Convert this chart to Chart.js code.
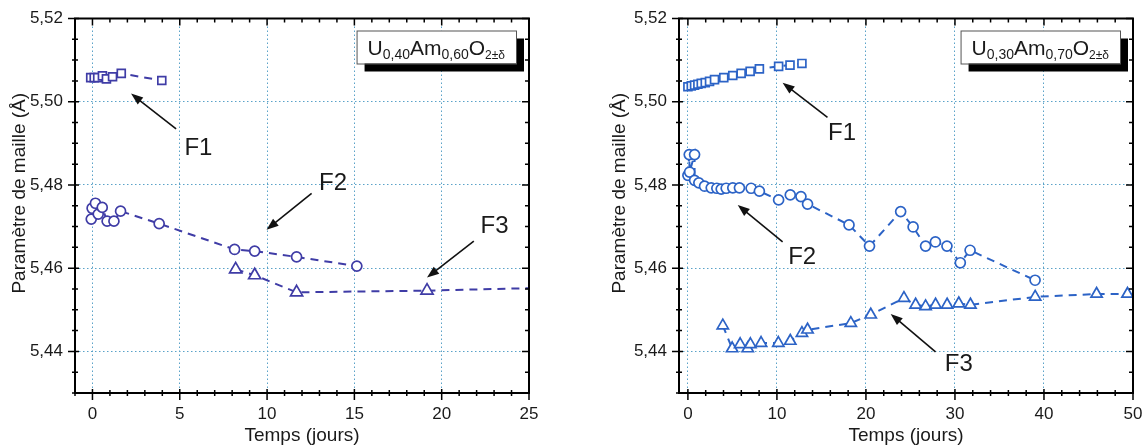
<!DOCTYPE html>
<html>
<head>
<meta charset="utf-8">
<script src="https://cdn.jsdelivr.net/npm/chart.js@4.4.1/dist/chart.umd.min.js"></script>
<style>
  html, body { margin: 0; padding: 0; background: #fff; }
  #wrap { position: relative; width: 1144px; height: 445px; }
  .panel { position: absolute; top: 0; width: 572px; height: 445px; }
  #pLeft { left: 0; }
  #pRight { left: 572px; }
</style>
</head>
<body>
<div id="wrap">
  <div class="panel" id="pLeft"><canvas id="chartLeft" width="572" height="445"></canvas></div>
  <div class="panel" id="pRight"><canvas id="chartRight" width="572" height="445"></canvas></div>
</div>
<script>
// ============================================================================
// Données
// ============================================================================

const Y_MIN = 5.43;
const Y_MAX = 5.52;
const yTicks = [5.44, 5.46, 5.48, 5.50, 5.52];

const leftXTicks = [0, 5, 10, 15, 20, 25];
const rightXTicks = [0, 10, 20, 30, 40, 50];

// U0,40Am0,60O2±δ
const leftF1X = [-0.1, 0.1, 0.3, 0.57, 0.8, 1.15, 1.65, 3.97];
const leftF1Y = [5.5058, 5.5058, 5.5058, 5.5062, 5.5055, 5.5060, 5.5068, 5.5051];

const leftF2X = [-0.07, -0.02, 0.17, 0.33, 0.56, 0.84, 1.23, 1.61, 3.82, 8.14, 9.29, 11.69, 15.14];
const leftF2Y = [5.4718, 5.4744, 5.4756, 5.4730, 5.4746, 5.4713, 5.4713, 5.4737, 5.4707, 5.4645, 5.4641, 5.4627, 5.4605];

const leftF3X = [8.2, 9.29, 11.69, 19.16, 26];
const leftF3Y = [5.4597, 5.4583, 5.4542, 5.4546, 5.4553];

// U0,30Am0,70O2±δ
const rightF1X = [0, 0.38, 0.75, 1.12, 1.5, 1.95, 2.43, 2.99, 4.03, 5.04, 5.98, 6.99, 8.03, 10.19, 11.47, 12.81];
const rightF1Y = [5.5036, 5.5038, 5.5040, 5.5042, 5.5044, 5.5046, 5.5049, 5.5053, 5.5058, 5.5063, 5.5068, 5.5073, 5.5079, 5.5085, 5.5088, 5.5092];

const rightF2X = [0, 0.15, 0.19, 0.75, 0.75, 1.23, 1.87, 2.62, 3.25, 3.74, 4.3, 5.04, 5.79, 7.1, 8.03, 10.19, 11.5, 12.7, 13.44, 18.1, 20.4, 23.9, 25.3, 26.7, 27.8, 29.1, 30.6, 31.7, 39.0];
const rightF2Y = [5.4823, 5.4873, 5.4831, 5.4873, 5.4811, 5.4805, 5.4797, 5.4793, 5.4792, 5.4790, 5.4792, 5.4793, 5.4793, 5.4792, 5.4785, 5.4764, 5.4776, 5.4772, 5.4754, 5.4704, 5.4653, 5.4736, 5.4699, 5.4653, 5.4663, 5.4653, 5.4613, 5.4643, 5.4571];

const rightF3X = [3.92, 4.97, 5.87, 6.72, 7.02, 8.22, 10.16, 11.5, 12.81, 13.44, 18.3, 20.54, 24.27, 25.58, 26.7, 27.82, 29.12, 30.43, 31.74, 39.01, 45.91, 49.38];
const rightF3Y = [5.4462, 5.4407, 5.4417, 5.4407, 5.4417, 5.4420, 5.4420, 5.4425, 5.4444, 5.4452, 5.4468, 5.4488, 5.4528, 5.4512, 5.4508, 5.4512, 5.4512, 5.4515, 5.4512, 5.4531, 5.4538, 5.4538];

// Annotations (texte + flèche), en coordonnées des données
const leftNotes = [
    { text: 'F1', tx: 6.07, ty: 5.4889, x1: 4.79, y1: 5.49345, x2: 2.21, y2: 5.50195 },
    { text: 'F2', tx: 13.78, ty: 5.4804, x1: 12.55, y1: 5.47798, x2: 9.97, y2: 5.46924 },
    { text: 'F3', tx: 23.03, ty: 5.4701, x1: 21.84, y1: 5.46648, x2: 19.16, y2: 5.45774 }
];
const rightNotes = [
    { text: 'F1', tx: 17.32, ty: 5.4923, x1: 15.68, y1: 5.49624, x2: 10.64, y2: 5.50457 },
    { text: 'F2', tx: 12.84, ty: 5.4627, x1: 10.64, y1: 5.46631, x2: 5.6, y2: 5.47519 },
    { text: 'F3', tx: 30.43, ty: 5.4368, x1: 27.82, y1: 5.43988, x2: 22.78, y2: 5.449 }
];

const leftFormula = [['U', 0], ['0,40', 1], ['Am', 0], ['0,60', 1], ['O', 0], ['2±δ', 2]];
const rightFormula = [['U', 0], ['0,30', 1], ['Am', 0], ['0,70', 1], ['O', 0], ['2±δ', 2]];

const FONT = 'Arial, "Liberation Sans", sans-serif';
const TEXT_COLOR = '#1a1a1a';
const GRID_COLOR = '#5aa2c8';

// ============================================================================
// Décor : cadre, graduations, titres d'axes, légende, flèches
// ============================================================================

function range(from, to, step) {
    const out = [];
    for (let v = from; v <= to + step / 1000; v += step) out.push(+v.toFixed(4));
    return out;
}

function drawArrow(ctx, x1, y1, x2, y2) {
    const ang = Math.atan2(y2 - y1, x2 - x1);
    const len = 12, half = 4.5;
    ctx.beginPath();
    ctx.moveTo(x1, y1);
    ctx.lineTo(x2 - Math.cos(ang) * len * 0.8, y2 - Math.sin(ang) * len * 0.8);
    ctx.lineWidth = 1.6;
    ctx.strokeStyle = '#111';
    ctx.stroke();
    ctx.beginPath();
    ctx.moveTo(x2, y2);
    ctx.lineTo(x2 - Math.cos(ang) * len - Math.sin(ang) * half, y2 - Math.sin(ang) * len + Math.cos(ang) * half);
    ctx.lineTo(x2 - Math.cos(ang) * len + Math.sin(ang) * half, y2 - Math.sin(ang) * len - Math.cos(ang) * half);
    ctx.closePath();
    ctx.fillStyle = '#111';
    ctx.fill();
}

const decorPlugin = {
    id: 'decor',
    afterDraw(chart, args, opts) {
        const { ctx, chartArea: a } = chart;
        const sx = chart.scales.x, sy = chart.scales.y;
        ctx.save();

        // flèches + étiquettes F1..F3
        opts.notes.forEach(n => {
            drawArrow(ctx, sx.getPixelForValue(n.x1), sy.getPixelForValue(n.y1),
                sx.getPixelForValue(n.x2), sy.getPixelForValue(n.y2));
            ctx.font = `24px ${FONT}`;
            ctx.fillStyle = TEXT_COLOR;
            ctx.textAlign = 'center';
            ctx.textBaseline = 'middle';
            ctx.fillText(n.text, sx.getPixelForValue(n.tx), sy.getPixelForValue(n.ty));
        });

        // boîte de la composition
        const sizes = [21, 14, 12];
        let w = 0;
        opts.formula.forEach(([t, k]) => { ctx.font = `${sizes[k]}px ${FONT}`; w += ctx.measureText(t).width; });
        const bw = w + 22, bh = 33;
        const bx = a.right - 13 - bw, by = a.top + 12;
        ctx.fillStyle = '#000';
        ctx.fillRect(bx + 8, by + 8, bw, bh);
        ctx.fillStyle = '#fff';
        ctx.fillRect(bx, by, bw, bh);
        ctx.lineWidth = 1;
        ctx.strokeStyle = '#555';
        ctx.strokeRect(bx + 0.5, by + 0.5, bw, bh);
        let tx = bx + 11;
        ctx.textAlign = 'left';
        ctx.textBaseline = 'alphabetic';
        ctx.fillStyle = TEXT_COLOR;
        opts.formula.forEach(([t, k]) => {
            ctx.font = `${sizes[k]}px ${FONT}`;
            ctx.fillText(t, tx, by + 24 + (k ? 4 : 0));
            tx += ctx.measureText(t).width;
        });

        // cadre
        ctx.strokeStyle = '#000';
        ctx.lineWidth = 2;
        ctx.strokeRect(a.left, a.top, a.right - a.left, a.bottom - a.top);

        // graduations
        ctx.lineWidth = 1.5;
        ctx.beginPath();
        opts.xMinor.forEach(v => {
            const p = sx.getPixelForValue(v);
            const major = opts.xMajor.includes(v);
            ctx.moveTo(p, a.bottom - (major ? 4 : 3)); ctx.lineTo(p, a.bottom + (major ? 7 : 3));
            ctx.moveTo(p, a.top); ctx.lineTo(p, a.top + (major ? 7 : 4));
        });
        opts.yMinor.forEach(v => {
            const p = sy.getPixelForValue(v);
            const major = yTicks.some(t => Math.abs(t - v) < 1e-6);
            ctx.moveTo(a.left - (major ? 7 : 3), p); ctx.lineTo(a.left + (major ? 4 : 3), p);
            ctx.moveTo(a.right, p); ctx.lineTo(a.right - (major ? 7 : 4), p);
        });
        ctx.stroke();

        // titres d'axes
        ctx.fillStyle = TEXT_COLOR;
        ctx.font = `19px ${FONT}`;
        ctx.textAlign = 'center';
        ctx.textBaseline = 'alphabetic';
        ctx.fillText('Temps (jours)', (a.left + a.right) / 2, 441);
        ctx.translate(a.left - opts.yTitleGap, (a.top + a.bottom) / 2 - 12.5);
        ctx.rotate(-Math.PI / 2);
        ctx.fillText('Paramètre de maille (Å)', 0, 0);
        ctx.restore();
    }
};

// ============================================================================
// Construction des graphiques
// ============================================================================

function toPoints(xs, ys) {
    return xs.map((x, i) => ({ x: x, y: ys[i] }));
}

function serie(xs, ys, style, radius, color) {
    return {
        data: toPoints(xs, ys),
        showLine: true,
        borderColor: color,
        borderWidth: 2,
        borderDash: [8, 6],
        tension: 0,
        pointStyle: style,
        pointRadius: radius,
        pointBorderWidth: 1.7,
        pointBorderColor: color,
        pointBackgroundColor: '#fff'
    };
}

function makeChart(id, cfg) {
    const ctx = document.getElementById(id).getContext('2d');
    return new Chart(ctx, {
        type: 'scatter',
        data: { datasets: cfg.datasets },
        options: {
            responsive: false,
            animation: false,
            layout: { padding: { left: cfg.padLeft, right: cfg.padRight, top: 18.5, bottom: 0 } },
            plugins: {
                legend: { display: false },
                tooltip: { enabled: false },
                decor: {
                    notes: cfg.notes,
                    formula: cfg.formula,
                    xMajor: cfg.xTicks,
                    xMinor: cfg.xMinor,
                    yMinor: range(Y_MIN, Y_MAX, 0.005),
                    yTitleGap: cfg.yTitleGap
                }
            },
            scales: {
                x: {
                    type: 'linear',
                    min: cfg.xMin,
                    max: cfg.xMax,
                    afterBuildTicks: s => { s.ticks = cfg.xTicks.map(v => ({ value: v })); },
                    afterFit: s => { s.height = 52; s.paddingLeft = 0; s.paddingRight = 0; },
                    grid: { color: GRID_COLOR, lineWidth: 1, drawTicks: false },
                    border: { display: false, dash: [1.5, 2.5] },
                    ticks: {
                        autoSkip: false,
                        maxRotation: 0,
                        padding: 11,
                        color: TEXT_COLOR,
                        font: { family: FONT, size: 17 },
                        callback: v => String(v)
                    }
                },
                y: {
                    min: Y_MIN,
                    max: Y_MAX,
                    afterBuildTicks: s => { s.ticks = yTicks.map(v => ({ value: v })); },
                    afterFit: s => { s.width = 75; s.paddingTop = 0; s.paddingBottom = 0; },
                    grid: { color: GRID_COLOR, lineWidth: 1, drawTicks: false },
                    border: { display: false, dash: [1.5, 2.5] },
                    ticks: {
                        padding: 12,
                        color: TEXT_COLOR,
                        font: { family: FONT, size: 17 },
                        callback: v => v.toFixed(2).replace('.', ',')
                    }
                }
            }
        },
        plugins: [decorPlugin]
    });
}

const LEFT_COLOR = '#3f3ca6';
const RIGHT_COLOR = '#2c63c6';

makeChart('chartLeft', {
    xMin: -1, xMax: 25,
    xTicks: leftXTicks,
    xMinor: range(-1, 25, 1),
    padLeft: 0, padRight: 43, yTitleGap: 50,
    notes: leftNotes,
    formula: leftFormula,
    datasets: [
        serie(leftF3X, leftF3Y, 'triangle', 7, LEFT_COLOR),
        serie(leftF2X, leftF2Y, 'circle', 5, LEFT_COLOR),
        serie(leftF1X, leftF1Y, 'rect', 5.6, LEFT_COLOR)
    ]
});

makeChart('chartRight', {
    xMin: -1, xMax: 50,
    xTicks: rightXTicks,
    xMinor: range(0, 50, 2),
    padLeft: 32, padRight: 11, yTitleGap: 54,
    notes: rightNotes,
    formula: rightFormula,
    datasets: [
        serie(rightF3X, rightF3Y, 'triangle', 6.5, RIGHT_COLOR),
        serie(rightF2X, rightF2Y, 'circle', 5, RIGHT_COLOR),
        serie(rightF1X, rightF1Y, 'rect', 5.6, RIGHT_COLOR)
    ]
});
</script>
</body>
</html>
